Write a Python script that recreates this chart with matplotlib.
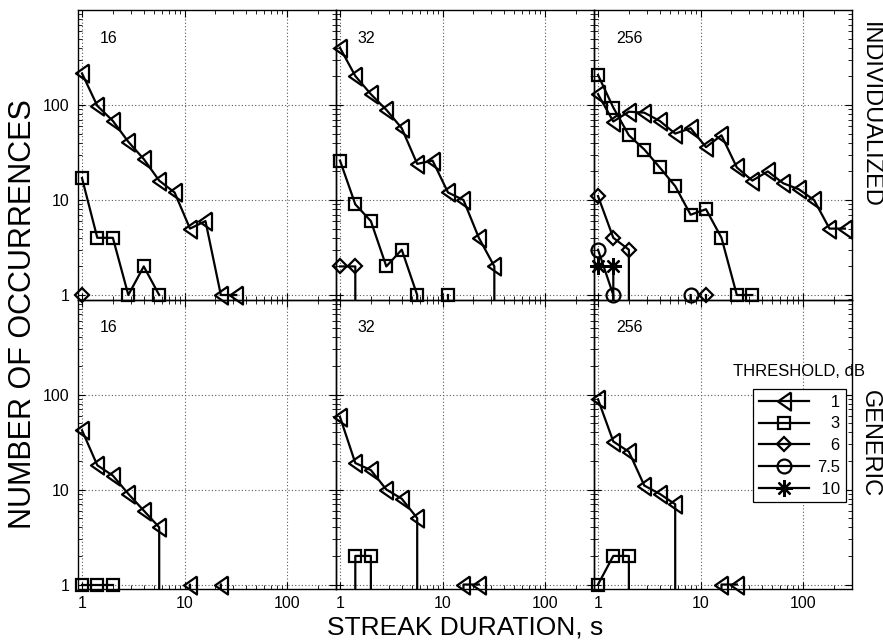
import numpy as np
import matplotlib
matplotlib.use('Agg')
import matplotlib.pyplot as plt
from matplotlib.lines import Line2D
from matplotlib.ticker import LogLocator, NullFormatter, FixedLocator, FixedFormatter

plt.rcParams['font.family'] = ['Liberation Sans', 'DejaVu Sans']

# ---------------- data ----------------
DURATIONS = [1, 1.41, 2, 2.83, 4, 5.66, 8, 11.3, 16, 22.6, 32, 45.3, 64, 90.5, 128, 181, 256]
THRESHOLDS = ['1', '3', '6', '7.5', '10']
BLOCK_SIZES = ['16', '32', '256']
ROW_LABELS = ['INDIVIDUALIZED', 'GENERIC']
X_TICKS = [1, 10, 100]
X_TICK_LABELS = ['1', '10', '100']
Y_TICKS = [1, 10, 100]
Y_TICK_LABELS = ['1', '10', '100']

# individualized, block 16
ind16_t1 = [215, 98, 68, 41, 27, 16, 12, 5, 6, 1, 1]
ind16_t3 = [17, 4, 4, 1, 2, 1]
ind16_t6 = [1]
# individualized, block 32
ind32_t1 = [400, 202, 130, 89, 57, 24, 26, 12, 10, 4, 2, 0]
ind32_t3 = [26, 9, 6, 2, 3, 1, 0, 1]
ind32_t6 = [2, 2, 0]
# individualized, block 256
ind256_t1 = [130, 67, 85, 83, 68, 50, 57, 36, 48, 22, 16, 20, 15, 13, 10, 5, 5]
ind256_t3 = [207, 94, 48, 34, 22, 14, 7, 8, 4, 1, 1]
ind256_t6 = [11, 4, 3, 0, 0, 0, 0, 1]
ind256_t75 = [3, 1, 0, 0, 0, 0, 1]
ind256_t10 = [2, 2, 0]
# generic
gen16_t1 = [42, 18, 14, 9, 6, 4, 0, 1, 0, 1]
gen16_t3 = [1, 1, 1]
gen32_t1 = [58, 19, 16, 10, 8, 5, 0, 0, 1, 1]
gen32_t3 = [0, 2, 2, 0]
gen256_t1 = [89, 32, 25, 11, 9, 7, 0, 0, 1, 1]
gen256_t3 = [1, 2, 2, 0]

PANELS = [
    [{'1': ind16_t1, '3': ind16_t3, '6': ind16_t6},
     {'1': ind32_t1, '3': ind32_t3, '6': ind32_t6},
     {'1': ind256_t1, '3': ind256_t3, '6': ind256_t6, '7.5': ind256_t75, '10': ind256_t10}],
    [{'1': gen16_t1, '3': gen16_t3},
     {'1': gen32_t1, '3': gen32_t3},
     {'1': gen256_t1, '3': gen256_t3}],
]

# ---------------- style ----------------
TALL_LEFT_TRIANGLE = [(0.72, 1.0), (-0.72, 0.0), (0.72, -1.0), (0.72, 1.0)]
STYLE = {
    '1':   dict(marker=TALL_LEFT_TRIANGLE, ms=13),
    '3':   dict(marker='s', ms=9),
    '6':   dict(marker='D', ms=7.5),
    '7.5': dict(marker='o', ms=10),
    '10':  dict(marker=(8, 2, 0), ms=12),
}
LW = 1.6
MEW = 1.6

W, H = 883, 641
fig = plt.figure(figsize=(W / 100, H / 100), dpi=100)
fig.patch.set_facecolor('white')

AX_L, AX_T = 78, 10
CW, RH = 258, 289.5
XLIM = (0.914, 300)
YLIM = (0.897, 1000)

axes = []
for r in range(2):
    for c in range(3):
        left = AX_L + CW * c
        top = AX_T + RH * r
        ax = fig.add_axes([left / W, 1 - (top + RH) / H, CW / W, RH / H])
        ax.patch.set_alpha(0)
        ax.set_xscale('log')
        ax.set_yscale('log')
        ax.set_xlim(*XLIM)
        ax.set_ylim(*YLIM)
        ax.xaxis.set_major_locator(FixedLocator(X_TICKS))
        ax.yaxis.set_major_locator(FixedLocator(Y_TICKS))
        ax.xaxis.set_minor_locator(LogLocator(base=10, subs=np.arange(2, 10)))
        ax.yaxis.set_minor_locator(LogLocator(base=10, subs=np.arange(2, 10)))
        ax.xaxis.set_minor_formatter(NullFormatter())
        ax.yaxis.set_minor_formatter(NullFormatter())
        if r == 1:
            ax.xaxis.set_major_formatter(FixedFormatter(X_TICK_LABELS))
        else:
            ax.xaxis.set_major_formatter(NullFormatter())
        if c == 0:
            ax.yaxis.set_major_formatter(FixedFormatter(Y_TICK_LABELS))
        else:
            ax.yaxis.set_major_formatter(NullFormatter())
        ax.tick_params(which='both', direction='in', top=True, right=True,
                       labelsize=11.5, color='k')
        ax.tick_params(which='major', length=5, width=0.8)
        ax.tick_params(which='minor', length=3, width=0.6)
        ax.tick_params(axis='y', pad=6)
        ax.tick_params(axis='x', pad=5)
        ax.grid(True, which='major', color='0.35', linestyle=(0, (1, 2)), linewidth=0.8)
        for s in ax.spines.values():
            s.set_linewidth(1.0)
            s.set_color('k')

        series = PANELS[r][c]
        for th in THRESHOLDS:
            if th not in series:
                continue
            vals = np.array(series[th], dtype=float)
            xs = np.array(DURATIONS[:len(vals)], dtype=float)
            st = STYLE[th]
            # connecting line (zeros fall off the bottom of the log axis)
            ax.plot(xs, vals, color='k', lw=LW, zorder=3)
            pos = vals > 0
            ax.plot(xs[pos], vals[pos], linestyle='none', marker=st['marker'],
                    ms=st['ms'], mfc='none', mec='k', mew=MEW, clip_on=False, zorder=4)

        ax.text(0.085, 0.903, BLOCK_SIZES[c], transform=ax.transAxes,
                fontsize=11.5, ha='left', va='center')
        axes.append(ax)

# legend in the bottom-right panel (labels padded so that they line up on the right)
PAD = {'1': '\u2007\u2008', '3': '\u2007\u2008', '6': '\u2007\u2008', '7.5': '', '10': '\u2008'}
legend_labels = [PAD[th] + th for th in THRESHOLDS]
handles = [Line2D([], [], color='k', lw=LW, marker=STYLE[th]['marker'],
                  ms=STYLE[th]['ms'], mfc='none', mec='k', mew=MEW) for th in THRESHOLDS]
leg = axes[5].legend(handles, legend_labels, loc='upper left',
                     bbox_to_anchor=(753 / W, 1 - 389 / H), bbox_transform=fig.transFigure,
                     fontsize=12, handlelength=3.0, handletextpad=0.5, labelspacing=0.4,
                     borderpad=0.35, borderaxespad=0, fancybox=False, framealpha=1,
                     edgecolor='k', markerfirst=True)
leg.get_frame().set_linewidth(0.9)
fig.text(733 / W, 1 - 371 / H, 'THRESHOLD, dB', fontsize=12, ha='left', va='center')

# labels
fig.text(23 / W, 1 - 314 / H, 'NUMBER OF OCCURRENCES', rotation=90,
         fontsize=22, ha='center', va='center')
fig.text(465 / W, 1 - 627 / H, 'STREAK DURATION, s', fontsize=19,
         ha='center', va='center')
fig.text(870 / W, 1 - 115 / H, ROW_LABELS[0], rotation=-90, fontsize=17,
         ha='center', va='center')
fig.text(870 / W, 1 - 444 / H, ROW_LABELS[1], rotation=-90, fontsize=17,
         ha='center', va='center')

fig.savefig('out.png', dpi=100)
